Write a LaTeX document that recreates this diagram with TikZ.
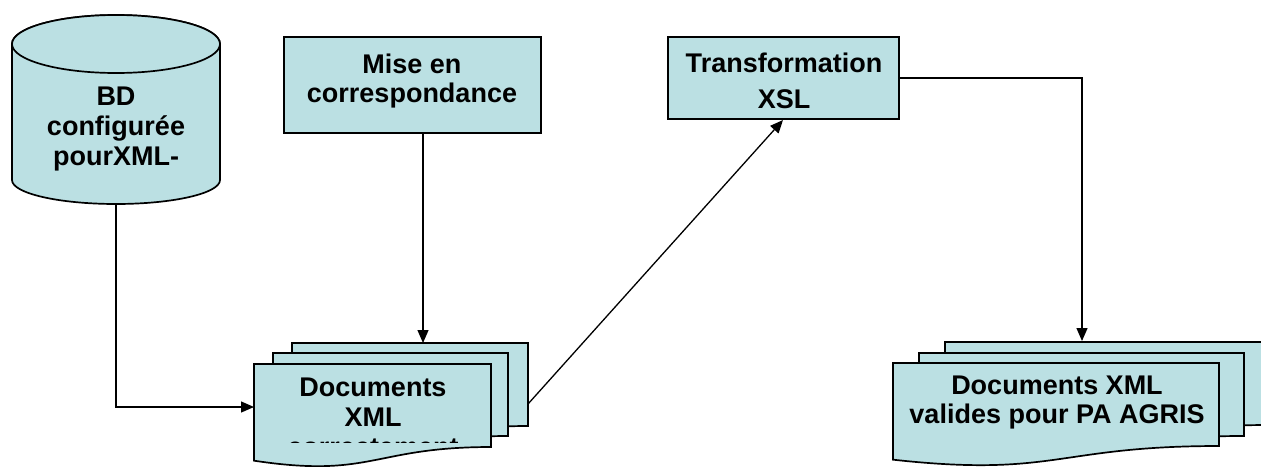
\documentclass[tikz,border=0pt]{standalone}
\usepackage{fontspec}
\setmainfont{Liberation Sans}
\usetikzlibrary{arrows.meta}
\definecolor{sheetfill}{RGB}{187,224,227}
\newcommand\docsheet[4]{%
  \pgfmathsetmacro\dxr{#1+#3}%
  \pgfmathsetmacro\dyr{-#2-0.802*#4}%
  \pgfmathsetmacro\dyl{-#2-0.934*#4}%
  \pgfmathsetmacro\dxm{#1+0.5*#3}%
  \pgfmathsetmacro\dyc{-#2-1.107*#4}%
  \filldraw[sheet] (#1,-#2) -- (\dxr,-#2) -- (\dxr,\dyr) .. controls (\dxm,\dyr) and (\dxm,\dyc) .. (#1,\dyl) -- cycle;}
\begin{document}
\begin{tikzpicture}[x=1pt,y=1pt,
  sheet/.style={draw=black,fill=sheetfill,line width=1.7pt},
  boxstyle/.style={draw=black,fill=sheetfill,line width=1.7pt,rectangle,inner sep=0pt},
  lbl/.style={font=\bfseries\fontsize{27}{30}\selectfont,align=center,inner sep=0pt,text=black},
  arr/.style={draw=black,line width=1.3pt,-{Triangle[length=13pt,width=11pt]}}]
\path[use as bounding box] (0,0) rectangle (1261,-466);
\clip (0,0) rectangle (1261,-466);
% cylinder
\filldraw[sheet] (12,-44) -- (12,-180) arc[start angle=180,end angle=360,x radius=104,y radius=24] -- (220,-44) arc[start angle=0,end angle=180,x radius=104,y radius=29] -- cycle;
\draw[sheet] (116,-44) ellipse [x radius=104,y radius=29];
\node[lbl] (bd) at (116,-129.5) {BD\\configurée\\pourXML-};
\coordinate (bdbot) at (116,-204);
% boxes
\node[boxstyle,minimum width=257pt,minimum height=96pt] (mise) at (412.5,-85) {};
\node[lbl,font=\bfseries\fontsize{27}{29}\selectfont] (misetxt) at (412,-81) {Mise en\\correspondance};
\node[boxstyle,minimum width=231pt,minimum height=82pt] (xsl) at (783.5,-78) {};
\node[lbl,font=\bfseries\fontsize{27}{36}\selectfont] (xsltxt) at (784,-80.6) {Transformation\\XSL};
% left document stack
\docsheet{292}{343}{236}{103.5}
\docsheet{273}{353}{235}{103.5}
\docsheet{254}{364}{237}{103.5}
\begin{scope}
\clip (254,-364) rectangle (491,-442.5);
\node[lbl] (docAtxt) at (373,-417.5) {Documents\\XML\\correctement};
\end{scope}
\coordinate (docAtop) at (423,-343);
\coordinate (docAw) at (254,-407);
\coordinate (docAr) at (528,-404);
% right document stack
\docsheet{945}{342}{325}{103.5}
\docsheet{919}{353}{325}{103.5}
\docsheet{893}{363}{326}{103.5}
\node[lbl,font=\bfseries\fontsize{27}{28.5}\selectfont] (docBtxt) at (1057,-402.5) {Documents XML\\valides pour PA AGRIS};
\coordinate (docBtop) at (1082,-341);
% connectors
\draw[arr] (bdbot) |- (docAw);
\draw[arr] (docAtop |- mise.south) -- (docAtop);
\draw[arr] (docAr) -- (783,-120);
\draw[arr] (xsl.east) -| (docBtop);
\end{tikzpicture}
\end{document}
